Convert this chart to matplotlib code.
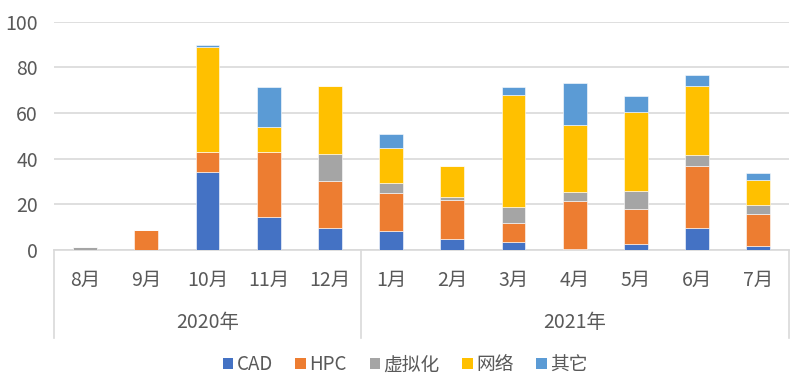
import numpy as np
import matplotlib
matplotlib.use('Agg')
import matplotlib.pyplot as plt
from matplotlib.patches import Patch

plt.rcParams['font.family'] = ['Noto Sans CJK SC', 'DejaVu Sans']
plt.rcParams['font.weight'] = 'light'

months = ['8月', '9月', '10月', '11月', '12月', '1月', '2月', '3月', '4月', '5月', '6月', '7月']
years = ['2020年', '2021年']
series = ['CAD', 'HPC', '虚拟化', '网络', '其它']

cad   = [0,   0, 34,   14.5,  9.6,  8.3,  4.7, 3.6,  0.4,  2.6,  9.6, 1.8]
hpc   = [0,   9,  9,   28.3, 20.6, 16.5, 17.1, 8.2, 21.1, 15.2, 27.3, 14.1]
virt  = [1.5, 0,  0,    0,   12,    4.5,  1.3, 7.2,  3.9,  7.9,  4.7, 3.8]
net   = [0,   0, 46,   11,   29.8, 15.5, 13.8, 49,  29.2, 35,   30.4, 11]
other = [0,   0,  1,   17.6,  0,    5.9,  0,   3.4, 18.4,  7,    4.9, 3.2]

colors = ['#4472C4', '#ED7D31', '#A5A5A5', '#FFC000', '#5B9BD5']
grey = '#595959'


def Main():
    fig = plt.figure(figsize=(8.01, 3.89), dpi=100)
    ax = fig.add_axes([0.068, 0.357, 0.917, 0.587])

    x = np.arange(len(months))
    bottom = np.zeros(len(months))
    for vals, c in zip([cad, hpc, virt, net, other], colors):
        vals = np.array(vals, dtype=float)
        ax.bar(x, vals, 0.39, bottom=bottom, color=c, edgecolor='white', linewidth=0.4, zorder=3)
        bottom += vals

    ax.set_xlim(-0.5, 11.5)
    ax.set_ylim(0, 100)
    ax.set_yticks(np.arange(0, 101, 20))
    ax.grid(axis='y', color='#d9d9d9', linewidth=1.2, zorder=0)
    for s in ['top', 'right', 'left']:
        ax.spines[s].set_visible(False)
    ax.spines['bottom'].set_color('#d9d9d9')
    ax.spines['bottom'].set_linewidth(1.2)
    ax.tick_params(axis='y', length=0, labelsize=14, labelcolor=grey, pad=12)

    # two level category axis
    ax.set_xticks(x)
    ax.set_xticklabels(months)
    ax.tick_params(axis='x', length=0, labelsize=14, labelcolor=grey, pad=14)
    tr = ax.get_xaxis_transform()
    for xs in [-0.5, 4.5, 11.5]:
        ax.plot([xs, xs], [0, -0.385], transform=tr, color='#d9d9d9', linewidth=1.2, clip_on=False)
    ax.text(2, -0.315, years[0], transform=tr, ha='center', va='center', fontsize=14, color=grey)
    ax.text(8, -0.315, years[1], transform=tr, ha='center', va='center', fontsize=14, color=grey)

    handles = [Patch(facecolor=c, label=s) for c, s in zip(colors, series)]
    fig.legend(handles=handles, loc='center', bbox_to_anchor=(0.506, 0.062), ncol=5,
               frameon=False, fontsize=13.5, labelcolor=grey, handlelength=0.55,
               handleheight=0.55, handletextpad=0.2, columnspacing=1.2)

    fig.savefig('out.png', dpi=100)


if __name__ == "__main__":
    Main()
